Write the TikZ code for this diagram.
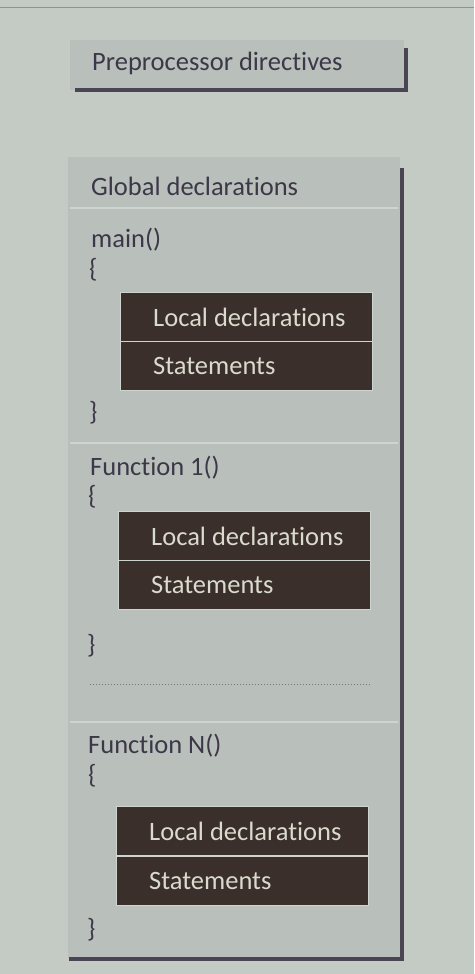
\documentclass[tikz,border=0pt]{standalone}
\usepackage{fontspec}
\setmainfont{Carlito}[Ligatures=CommonOff]
\usetikzlibrary{positioning}

\definecolor{paper}{HTML}{C3CBC4}
\definecolor{panel}{HTML}{B9BFBA}
\definecolor{ink}{HTML}{3C3848}
\definecolor{shade}{HTML}{4A4552}
\definecolor{blockfill}{HTML}{3A2F2A}
\definecolor{blockink}{HTML}{DADACE}
\definecolor{rulecol}{HTML}{CED4CF}

\begin{document}
\begin{tikzpicture}[x=1pt, y=-1pt, every node/.style={font=\fontsize{26.5}{30}\selectfont}]
\tikzset{
  codetext/.style={anchor=west, text=ink, inner sep=0pt},
  rowtext/.style={anchor=west, text=blockink, inner sep=0pt},
  panelbox/.style={fill=panel, anchor=north west, inner sep=0pt},
  darkrow/.style={fill=blockfill, draw=rulecol, line width=0.8pt, anchor=north west,
    minimum width=252pt, minimum height=49pt, inner sep=0pt},
  shadowline/.style={draw=shade, line width=4pt},
  sepline/.style={draw=rulecol, line width=1.5pt}
}
% Page
\fill[paper] (0,0) rectangle (474,974);
\useasboundingbox (0,0) rectangle (474,974);
\draw[shade!60, line width=1pt] (0,8) -- (474,8);

% Preprocessor directives
\node[panelbox, minimum width=334pt, minimum height=50pt] (prep) at (70,40) {};
\draw[shadowline] ([xshift=5pt]prep.south west) -- ([xshift=2pt]prep.south east) -- ([xshift=2pt,yshift=-8pt]prep.north east);
\node[codetext] (preptext) at (92,63) {Preprocessor directives};

% Program body
\node[panelbox, minimum width=332pt, minimum height=801pt] (body) at (68,157) {};
\draw[shadowline] ([xshift=1pt,yshift=-1pt]body.south west) -- ([xshift=2pt,yshift=-1pt]body.south east) -- ([xshift=2pt,yshift=-11pt]body.north east);

% Global declarations
\node[codetext] (global) at (91,186) {Global declarations};
\draw[sepline] (70,208) -- (398,208);

% main
\node[codetext] (main) at (91,240) {main()};
\node[codetext] (mainopen) at (89,270) {\{};
\node[darkrow] (mainloc) at (120,292) {};
\node[darkrow] (mainstm) at (120,341) {};
\node[rowtext, right=33pt of mainloc.west] {Local declarations};
\node[rowtext, right=33pt of mainstm.west] {Statements};
\node[codetext] (mainclose) at (89,413) {\}};
\draw[sepline] (70,443) -- (398,443);

% Function 1
\node[codetext] (fone) at (90,468) {Function 1()};
\node[codetext] (foneopen) at (88,497) {\{};
\node[darkrow] (foneloc) at (118,511) {};
\node[darkrow] (fonestm) at (118,560) {};
\node[rowtext, right=33pt of foneloc.west] {Local declarations};
\node[rowtext, right=33pt of fonestm.west] {Statements};
\node[codetext] (foneclose) at (87,646) {\}};
\draw[ink!70, line width=1pt, dotted] (90,684) -- (370,684);
\draw[sepline] (70,722) -- (398,722);

% Function N
\node[codetext] (fn) at (88,746) {Function N()};
\node[codetext] (fnopen) at (88,776) {\{};
\node[darkrow] (fnloc) at (116,806) {};
\node[darkrow] (fnstm) at (116,856) {};
\node[rowtext, right=33pt of fnloc.west] {Local declarations};
\node[rowtext, right=33pt of fnstm.west] {Statements};
\node[codetext] (fnclose) at (87,930) {\}};
\end{tikzpicture}
\end{document}
